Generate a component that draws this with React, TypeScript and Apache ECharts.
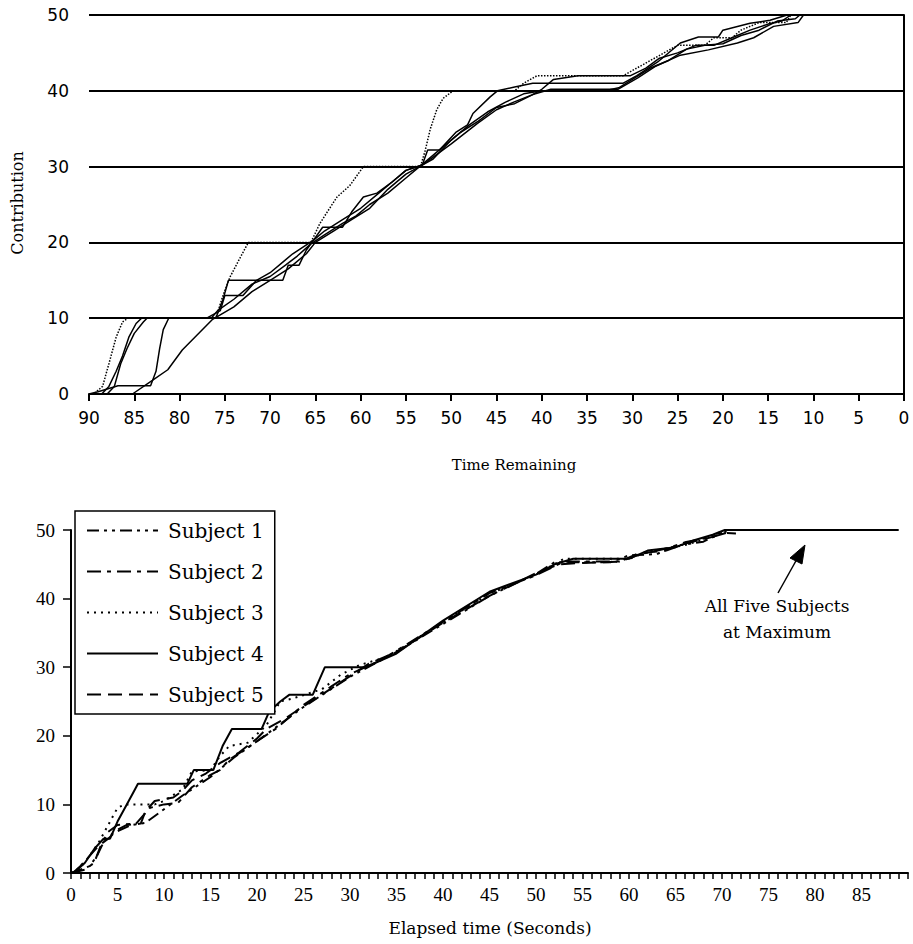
import React, { useEffect, useRef } from "react";
import * as echarts from "echarts";

// ---------- Top panel: contribution vs time remaining ----------
const topTicksX = [90, 85, 80, 75, 70, 65, 60, 55, 50, 45, 40, 35, 30, 25, 20, 15, 10, 5, 0];
const topSeriesA: number[][] = [
  [90, 0], [89.5, 0], [88.5, 1], [87.8, 4], [87, 7.5], [86.3, 9.5], [85.7, 10], [76, 10], [75.2, 13],
  [74.4, 15.5], [73.3, 18], [72.4, 20], [65.5, 20], [64.5, 22.5], [63.7, 24], [62.6, 26], [61.2, 27.5],
  [59.7, 30], [53.4, 30], [52.9, 32], [52.3, 35], [51.6, 37.5], [50.9, 39], [49.8, 40], [43, 40],
  [42, 41], [40.5, 42], [31, 42], [29.5, 43], [28, 44], [26.5, 45], [25, 46], [22, 46], [21, 47],
  [19, 47], [18, 48], [16, 49], [13, 49], [12.5, 50], [11, 50],
];
const topSeriesB: number[][] = [
  [90, 0], [88.6, 0], [87.8, 1], [87, 3], [86.3, 5], [85.6, 7.5], [84.8, 9.3], [84.2, 10], [76, 10],
  [75.2, 12.5], [74.6, 15], [68.6, 15], [68, 17], [66.8, 17], [66, 19], [65.2, 20.3], [64.2, 22],
  [62, 22], [61, 24], [59.7, 26], [58.2, 26.5], [56.5, 28], [55, 29.5], [53.2, 30.2], [52.6, 32.2],
  [51.3, 32.2], [49.5, 34.5], [48.2, 35.5], [47.6, 37], [45.7, 39.2], [44.9, 40], [43, 40.5],
  [41, 41], [31, 41], [29.5, 42], [27.2, 43.8], [24.7, 46.3], [22.7, 47.1], [20.5, 47.1], [20, 48],
  [17, 48.9], [14.8, 49.3], [12.9, 50], [11, 50],
];
const topSeriesC: number[][] = [
  [90, 0], [88, 0], [87.2, 1], [86.5, 4], [85.8, 6], [85, 8], [84, 9.5], [83.6, 10], [77, 10],
  [75.5, 11], [75, 13], [73, 13], [71.5, 15], [70, 16], [68.5, 17.5], [67.5, 18.5], [65.2, 20.3],
  [64, 21.5], [62, 23], [60, 24.5], [58, 26.5], [56, 28.5], [55, 29.5], [53.2, 30.2], [52.3, 31],
  [50, 33], [47.1, 35.7], [45, 37.5], [43.1, 38.5], [41, 39.5], [40, 40.2], [38.7, 41.5], [36, 42],
  [30.2, 42], [28.5, 43], [27, 44.3], [25, 45], [23, 46], [21, 46], [19, 47], [17, 48], [15, 48.8],
  [13.5, 49.2], [12.5, 50], [11, 50],
];
const topSeriesD: number[][] = [
  [90, 0], [89, 0.3], [86.8, 1.1], [83.2, 1.1], [82.6, 3], [82.2, 6], [81.8, 8.5], [81.2, 10],
  [76.5, 10], [75.8, 11], [74, 12.5], [72, 14.5], [70, 15.5], [68.3, 17], [67, 18.2], [65.5, 19.8],
  [64, 21], [62, 22.5], [60.5, 23.5], [59, 25], [57, 26.5], [55, 28.5], [53, 30.5], [51.5, 32],
  [49, 34.5], [47, 36], [45, 37.8], [43, 38.3], [41, 39.5], [39, 40.2], [31.6, 40.2], [29.4, 41.7],
  [27.5, 43.2], [24.7, 44.7], [21.6, 45.4], [18.4, 46.3], [16.6, 47], [14.4, 48.5], [11.7, 49],
  [11.1, 50], [10.5, 50],
];
const topSeriesE: number[][] = [
  [90, 0], [85.2, 0], [83, 1.8], [81.3, 3.2], [79.7, 5.8], [76.4, 9.8], [74, 11.5], [72, 13.5],
  [70, 15], [68, 16.5], [66, 18.5], [65, 20], [63, 21.5], [61, 23], [59, 24.5], [57, 27], [55, 29],
  [53.5, 30], [52, 31], [50, 33.5], [48, 35.5], [46, 37.2], [44, 38.5], [42, 39.6], [40, 40],
  [33, 40], [31.5, 40.4], [30, 41.5], [28, 43], [26, 44], [24, 45.5], [22, 46], [20, 46.2],
  [18, 47.3], [16, 48], [14, 49.2], [12, 49.5], [11.5, 50], [11, 50],
];

// ---------- Bottom panel: contribution vs elapsed time ----------
const subjectNames = ["Subject 1", "Subject 2", "Subject 3", "Subject 4", "Subject 5"];
const subject1: number[][] = [
  [0, 0], [1, 0.5], [2, 1], [2.8, 2.5], [3.5, 4.5], [4.5, 5.8], [6.5, 7], [8, 7.3], [10, 9.3],
  [12, 11.3], [15, 14], [17.5, 16.8], [20, 19.2], [25, 24.2], [30, 28.6], [35, 32.2], [40, 36.3],
  [45, 40.4], [50, 43.6], [52, 45.3], [58, 45.3], [60, 46.3], [63, 46.5], [65, 47.7], [68, 48.3],
  [70, 49.6], [71.5, 49.5],
];
const subject2: number[][] = [
  [0, 0], [1.5, 0.5], [2.5, 1.5], [3.2, 4], [4, 6], [5, 7], [7, 7.2], [8.5, 9.5], [10, 10],
  [11.5, 10.2], [13, 12.5], [15, 14.3], [16, 15], [17, 16.5], [20, 19.2], [22, 21], [25, 24.5],
  [28, 27.2], [30, 29], [33, 30.8], [35, 32.4], [40, 36.6], [45, 40.8], [50, 43.4], [53, 45.4],
  [59, 45.4], [61, 46.4], [64, 47.3], [66, 48.2], [69, 49], [71, 49.8],
];
const subject3: number[][] = [
  [0, 0], [1, 0.8], [2, 2.5], [3, 4.5], [4, 7], [5, 9.5], [5.8, 10], [9, 10], [10, 10.5],
  [12, 12.2], [13, 14.8], [15, 15], [16, 17], [17, 18.5], [19, 19], [21, 21.5], [22.5, 25],
  [24, 25.5], [27, 26.8], [29, 28.9], [31, 30.3], [34, 31.5], [37, 34], [40, 36.6], [45, 40.7],
  [50, 43.5], [53, 45.8], [60, 45.8], [62, 46.8], [66, 47.8], [68, 48.6], [70, 49.8],
];
const subject4: number[][] = [
  [0.3, 0], [1.5, 1.5], [2.5, 3.5], [3.5, 5], [4.2, 5], [5, 7.5], [6, 10], [6.8, 12], [7.2, 13],
  [12.5, 13], [13.2, 15], [15.3, 15], [16.3, 18.5], [17.3, 21], [20.5, 21], [21.3, 23.5],
  [22.5, 25], [23.5, 26], [26, 26], [27.3, 30], [31.5, 30], [32.5, 30.5], [35, 32], [40, 36.8],
  [45, 41], [50, 43.5], [52, 45], [54, 45.8], [60, 45.8], [62, 47], [65, 47.5], [67, 48.5],
  [69, 49.3], [70.3, 50], [89, 50],
];
const subject5: number[][] = [
  [0.2, 0], [1, 1], [2, 2.5], [3, 4], [4, 5], [5, 6.3], [6, 7], [7.5, 7.2], [8, 9], [9, 10.5],
  [11, 11], [12, 12], [13, 13.5], [14.5, 14.5], [16, 16], [18, 17.5], [20, 19.6], [21, 21],
  [23, 22.5], [25, 24.3], [28, 26.9], [30, 28.7], [32, 30.5], [35, 32.2], [40, 36.5], [45, 40.4],
  [50, 43.7], [52.5, 45], [55, 45.2], [59, 45.4], [61, 46.6], [64, 47], [66, 48], [69, 49],
  [70.5, 49.8],
];
const bottomTicksX = [0, 5, 10, 15, 20, 25, 30, 35, 40, 45, 50, 55, 60, 65, 70, 75, 80, 85];
const yTicks = [0, 10, 20, 30, 40, 50];

const BLACK = "#000";

export default function App() {
  const ref = useRef<HTMLDivElement>(null);
  useEffect(() => {
    if (!ref.current) return;
    const chart = echarts.init(ref.current, undefined, { renderer: "svg" });
    const topData = [topSeriesA, topSeriesB, topSeriesC, topSeriesD, topSeriesE];
    const topTypes: any[] = ["dotted", "solid", "solid", "solid", "solid"];
    const bottomData = [subject1, subject2, subject3, subject4, subject5];
    const bottomTypes: any[] = [[12, 5, 3, 5, 3, 5], [14, 6, 4, 6], [2, 5], "solid", [14, 7]];

    const series: any[] = [];
    topData.forEach((d, i) => {
      series.push({
        name: "Remaining " + (i + 1),
        type: "line",
        xAxisIndex: 0,
        yAxisIndex: 0,
        data: d,
        symbol: "none",
        lineStyle: { color: BLACK, width: 1.5, type: topTypes[i] },
      });
    });
    bottomData.forEach((d, i) => {
      series.push({
        name: subjectNames[i],
        type: "line",
        xAxisIndex: 1,
        yAxisIndex: 1,
        data: d,
        symbol: "none",
        lineStyle: { color: BLACK, width: 2, type: bottomTypes[i] },
        itemStyle: { color: BLACK },
      });
    });

    const tipX = 805, tipY = 545;
    chart.setOption({
      animation: false,
      backgroundColor: "#fff",
      grid: [
        { left: 89, top: 15, width: 815, height: 379 },
        { left: 71, top: 530, width: 837, height: 343 },
      ],
      legend: {
        data: subjectNames,
        orient: "vertical",
        left: 75,
        top: 511,
        padding: [9, 11, 9, 11],
        itemWidth: 71,
        itemHeight: 14,
        itemGap: 20,
        borderColor: BLACK,
        borderWidth: 1.5,
        backgroundColor: "#fff",
        itemStyle: { opacity: 0, color: "rgba(0,0,0,0)", borderWidth: 0 },
        textStyle: { fontFamily: "DejaVu Serif", fontSize: 20, color: BLACK, lineHeight: 21, padding: [0, 0, 0, 5] },
        selectedMode: false,
      },
      xAxis: [
        {
          type: "value",
          gridIndex: 0,
          min: 0,
          max: 90,
          interval: 5,
          inverse: true,
          axisLine: { show: true, lineStyle: { color: BLACK, width: 2 } },
          axisTick: { show: true, length: 7, lineStyle: { color: BLACK, width: 2 } },
          axisLabel: {
            color: BLACK,
            fontFamily: "DejaVu Sans",
            fontSize: 17,
            margin: 15,
            formatter: (v: number) => (topTicksX.includes(v) ? String(v) : ""),
          },
          splitLine: { show: false },
        },
        {
          type: "value",
          gridIndex: 1,
          min: 0,
          max: 90,
          interval: 5,
          axisLine: { show: true, lineStyle: { color: BLACK, width: 2 } },
          axisTick: { show: true, length: 6, lineStyle: { color: BLACK, width: 1.5 } },
          minorTick: { show: true, splitNumber: 5, length: 6, lineStyle: { color: BLACK, width: 1.5 } },
          axisLabel: {
            color: BLACK,
            fontFamily: "Liberation Serif",
            fontSize: 19,
            margin: 12,
            formatter: (v: number) => (bottomTicksX.includes(v) ? String(v) : ""),
          },
          splitLine: { show: false },
        },
      ],
      yAxis: [
        {
          type: "value",
          gridIndex: 0,
          min: 0,
          max: 50,
          interval: 10,
          axisLine: { show: true, lineStyle: { color: BLACK, width: 2 } },
          axisTick: { show: true, length: 4, lineStyle: { color: BLACK, width: 2 } },
          axisLabel: {
            color: BLACK,
            fontFamily: "DejaVu Sans",
            fontSize: 17,
            margin: 20,
            formatter: (v: number) => (yTicks.includes(v) ? String(v) : ""),
          },
          splitLine: { show: true, lineStyle: { color: BLACK, width: 2, type: "solid" } },
        },
        {
          type: "value",
          gridIndex: 1,
          min: 0,
          max: 50,
          interval: 10,
          axisLine: { show: true, lineStyle: { color: BLACK, width: 2 } },
          axisTick: { show: true, length: 8, lineStyle: { color: BLACK, width: 1.5 } },
          axisLabel: {
            color: BLACK,
            fontFamily: "Liberation Serif",
            fontSize: 19,
            margin: 16,
            formatter: (v: number) => (yTicks.includes(v) ? String(v) : ""),
          },
          splitLine: { show: false },
        },
      ],
      graphic: [
        {
          type: "text",
          x: 17,
          y: 203,
          rotation: Math.PI / 2,
          style: {
            text: "Contribution",
            fontFamily: "DejaVu Serif",
            fontSize: 16,
            fill: BLACK,
            align: "center",
            verticalAlign: "middle",
          },
        },
        {
          type: "text",
          x: 514,
          y: 465,
          style: {
            text: "Time Remaining",
            fontFamily: "DejaVu Serif",
            fontSize: 15,
            fill: BLACK,
            align: "center",
            verticalAlign: "middle",
          },
        },
        {
          type: "text",
          x: 490,
          y: 928,
          style: {
            text: "Elapsed time (Seconds)",
            fontFamily: "DejaVu Serif",
            fontSize: 17,
            fill: BLACK,
            align: "center",
            verticalAlign: "middle",
          },
        },
        {
          type: "text",
          x: 777,
          y: 619,
          style: {
            text: "All Five Subjects\nat Maximum",
            fontFamily: "DejaVu Serif",
            fontSize: 17,
            lineHeight: 26,
            fill: BLACK,
            align: "center",
            verticalAlign: "middle",
          },
        },
        {
          type: "line",
          shape: { x1: 778, y1: 593, x2: 797, y2: 559 },
          style: { stroke: BLACK, lineWidth: 1.5 },
        },
        {
          type: "polygon",
          shape: { points: [[tipX, tipY], [802, 564], [790, 558]] },
          style: { fill: BLACK, stroke: BLACK, lineWidth: 1 },
        },
      ],
      series,
    });
    return () => chart.dispose();
  }, []);
  return (
    <div
      ref={ref}
      style={{ position: "fixed", left: 0, top: 0, width: 913, height: 944, background: "#fff" }}
    />
  );
}
